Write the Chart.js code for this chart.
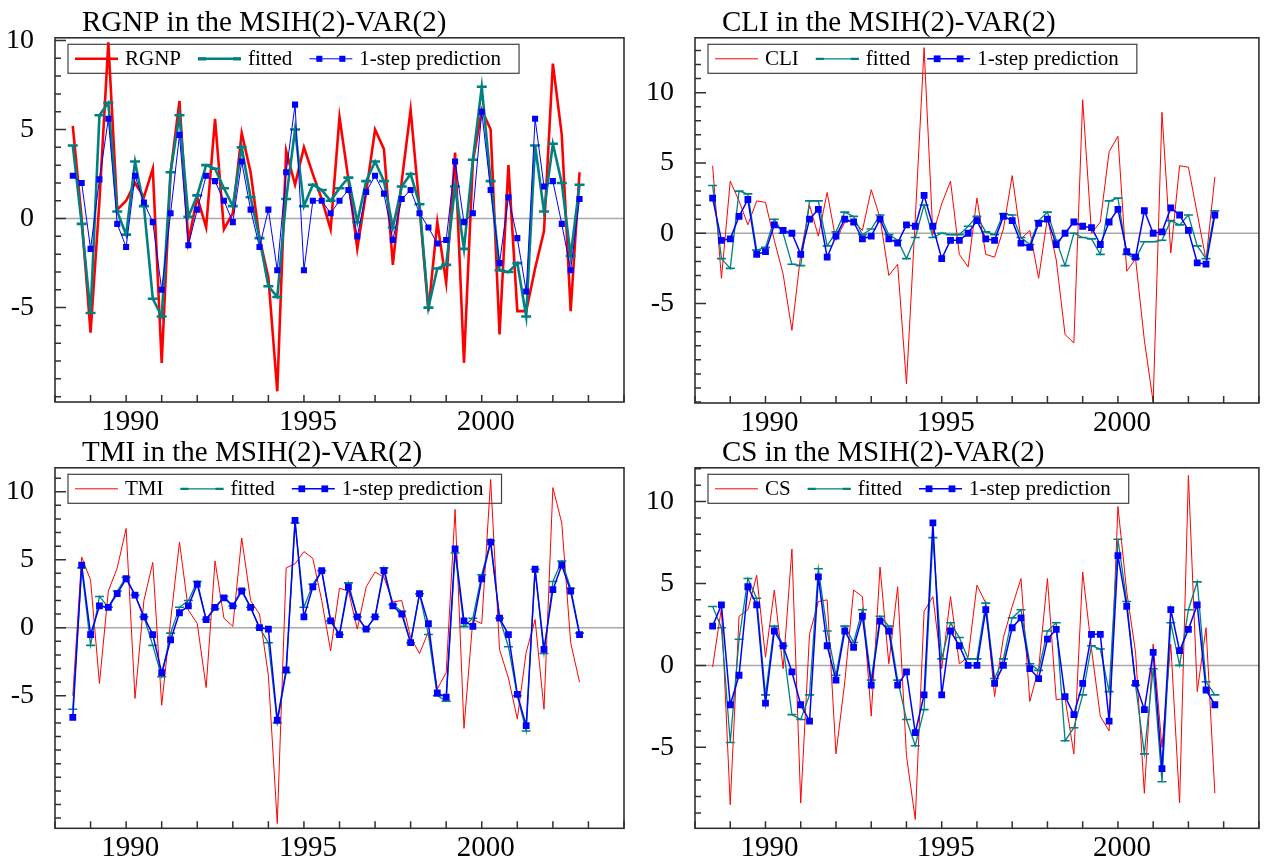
<!DOCTYPE html>
<html>
<head>
<meta charset="utf-8">
<script src="https://cdn.jsdelivr.net/npm/chart.js@4.4.0/dist/chart.umd.min.js"></script>
<style>
  body { margin: 0; background: #fff; width: 1265px; height: 867px; position: relative; overflow: hidden; }
  canvas { position: absolute; }
</style>
</head>
<body>
<canvas id="c1" width="632" height="445" style="left:0;top:0"></canvas>
<canvas id="c2" width="625" height="445" style="left:640px;top:0"></canvas>
<canvas id="c3" width="632" height="437" style="left:0;top:430px"></canvas>
<canvas id="c4" width="625" height="437" style="left:640px;top:430px"></canvas>
<script>
// quarterly sample 1988:3 - 2002:4
const firstQuarter = 1988.5;
const nObs = 58;
const xTickLabels = [1990, 1995, 2000];
const yTickLabels = [-5, 0, 5, 10];

const rgnpActual = [5.2, 0, -6.4, 1.0, 9.9, 0.5, 1.0, 2.0, 1.2, 2.8, -8.1, 2.6, 6.6, -1.3, 1.2, -0.5, 5.6, -0.6, 0.3, 4.8, 2.6, -1.1, -3.3, -9.7, 3.8, 1.9, 4.0, 2.5, 1.1, -0.6, 5.7, 2.2, -1.7, 1.5, 5.0, 3.9, -2.6, 2.1, 6.1, 0.6, -5.2, -0.2, -3.6, 3.7, -8.1, 3.2, 6.1, 5.0, -6.5, 3.0, -5.2, -5.2, -2.8, -0.7, 8.7, 4.7, -5.2, 2.6];
const rgnpFitted = [4.1, -0.3, -5.3, 5.8, 6.5, 0.4, -0.9, 3.2, 0.7, -4.5, -5.5, 2.6, 5.8, 0.1, 1.3, 3.0, 2.8, 1.7, 0.7, 4.0, 1.2, -1.1, -3.8, -4.4, 1.1, 5.0, 0.7, 1.9, 1.6, 1.0, 1.7, 2.3, -0.2, 2.1, 3.2, 2.1, -0.5, 1.8, 2.5, 0.8, -5.0, -2.8, -2.6, 1.8, -1.7, 3.3, 7.4, 2.1, -2.9, -3.0, -2.5, -5.5, 4.1, 0.4, 4.2, 2.0, -2.1, 1.9];
const rgnpPred = [2.4, 2.0, -1.7, 2.2, 5.6, -0.3, -1.6, 2.4, 0.9, -0.2, -4.0, 0.3, 4.7, -1.5, 0.5, 2.4, 2.1, 1.0, -0.2, 3.2, 0.5, -1.6, 0.5, -2.9, 2.6, 6.4, -2.9, 1.0, 1.0, 0.3, 1.0, 1.6, -1.0, 1.5, 2.4, 1.4, -1.2, 1.1, 1.6, 0.3, -0.5, -1.4, -1.2, 3.2, -0.2, 0.3, 6.0, 1.6, -2.5, 1.2, -1.1, -4.1, 5.6, 1.8, 2.1, -0.3, -2.9, 1.1];

const cliActual = [4.8, -3.2, 3.7, 2.3, 0.6, 2.3, 2.2, -0.5, -2.9, -6.9, -1.5, 2.0, -0.2, 2.9, -0.5, 0.8, 0.9, 0.2, 3.1, 1.1, -3.0, -2.2, -10.7, 1.0, 13.2, -0.1, 2.1, 3.7, -1.5, -2.4, 2.5, -1.5, -1.7, 0.3, 4.1, -0.4, 0.2, -3.2, 1.1, -1.9, -7.2, -7.8, 9.5, 0.0, 0.8, 5.8, 6.9, -2.7, -1.8, -7.6, -12.0, 8.6, -1.4, 4.8, 4.7, 1.4, -1.9, 4.0];
const cliFitted = [3.4, -1.8, -2.5, 3.0, 2.8, -1.2, -1.0, 1.0, 0.0, -2.2, -2.3, 2.3, 2.3, -0.9, 0.1, 1.5, 1.2, -0.1, 0.3, 1.3, -0.1, -0.5, -1.8, -0.3, 2.0, -0.3, 0.0, -0.1, -0.1, 0.5, 1.2, 0.1, -0.1, 1.4, 1.3, -0.3, -0.8, 0.9, 1.5, -0.5, -2.3, 0.0, -0.3, -0.4, -1.5, 2.3, 2.5, -1.5, -1.8, -0.6, -0.6, -0.5, 0.9, 0.6, 1.3, -0.9, -1.8, 1.6];
const cliPred = [2.5, -0.5, -0.4, 1.2, 2.4, -1.5, -1.3, 0.6, 0.2, 0.0, -1.5, 1.0, 1.7, -1.7, -0.2, 1.0, 0.8, -0.4, -0.2, 1.0, -0.4, -0.7, 0.6, 0.5, 2.7, 0.5, -1.8, -0.5, -0.5, 0.0, 0.9, -0.4, -0.5, 1.2, 0.9, -0.7, -1.0, 0.7, 1.0, -0.8, 0.0, 0.8, 0.5, 0.4, -0.8, 0.8, 1.7, -1.3, -1.7, 1.6, 0.0, 0.1, 1.8, 1.3, 0.2, -2.1, -2.2, 1.3];

const tmiActual = [-5.0, 5.2, 3.5, -4.1, 2.7, 4.4, 7.3, -5.2, 2.0, 4.8, -5.7, 0.5, 6.3, 1.3, 0.3, -4.4, 4.9, 0.7, 0.1, 6.6, 2.0, 1.0, -3.5, -14.4, 4.4, 4.7, 5.6, 5.1, 2.0, -1.7, 2.9, 2.7, -0.1, 3.0, 4.1, 3.7, 1.9, 2.0, -0.7, -1.9, -0.3, -4.5, -3.3, 8.7, -7.4, 0.6, 0.3, 10.9, -1.6, -3.7, -6.7, -1.8, 0.6, -6.0, 10.3, 7.7, -1.1, -4.0];
const tmiFitted = [-6.0, 4.4, -1.3, 2.3, 1.5, 2.7, 3.7, 2.4, 0.8, -1.3, -3.6, -0.4, 1.5, 2.0, 3.4, 0.6, 1.4, 2.3, 1.6, 2.8, 1.5, 0.0, -1.1, -7.0, -3.3, 7.7, 1.5, 3.2, 4.2, 0.5, -0.5, 3.3, 0.8, -0.1, 0.8, 4.4, 1.7, 1.2, -1.1, 2.5, -0.5, -5.0, -5.4, 5.5, 0.1, 0.7, 3.9, 6.4, 0.7, -1.4, -5.0, -7.6, 4.3, -1.9, 3.4, 4.9, 2.9, -0.4];
const tmiPred = [-6.6, 4.6, -0.5, 1.6, 1.5, 2.5, 3.6, 2.4, 0.8, -0.5, -3.3, -0.9, 1.1, 1.6, 3.2, 0.6, 1.5, 2.2, 1.6, 2.7, 1.5, 0.0, -0.1, -6.8, -3.1, 7.9, 0.8, 3.0, 4.2, 0.5, -0.5, 3.0, 0.8, -0.1, 0.8, 4.2, 1.6, 1.0, -1.1, 2.5, 0.3, -4.8, -5.1, 5.8, 0.5, 0.1, 3.6, 6.3, 0.7, -0.5, -4.9, -7.2, 4.3, -1.6, 2.8, 4.6, 2.7, -0.5];

const csActual = [-0.1, 3.5, -8.5, 3.0, 3.4, 5.5, 0.5, 4.6, -0.2, 7.1, -8.4, 1.9, 3.9, 4.0, -5.4, -1.0, 4.6, 4.2, -3.1, 6.0, 0.1, 4.8, -5.5, -9.4, 3.3, 4.2, -0.2, 4.2, 0.1, 0.5, 4.9, 3.8, -1.9, 1.7, 3.6, 5.3, -2.2, -0.2, 5.3, -2.1, -2.0, -5.4, 5.7, 1.0, -3.1, -4.0, 9.7, 4.5, 0.8, -7.8, 1.3, -5.0, 1.3, -8.4, 11.6, -1.6, 2.3, -7.8];
const csFitted = [3.6, 2.3, -4.7, 1.6, 5.3, 4.1, -1.8, 2.4, 1.2, -3.0, -3.3, -1.8, 5.9, 2.1, -0.6, 2.4, 1.4, 3.4, -0.9, 3.0, 2.4, -0.9, -3.3, -4.9, -2.7, 7.8, 0.4, 2.6, 1.7, 0.4, 0.4, 3.8, -0.8, 0.4, 2.9, 3.4, 0.1, -0.3, 2.1, 2.6, -4.6, -3.8, -1.8, 1.2, 1.0, -1.6, 7.7, 3.9, -1.2, -5.4, -0.2, -7.1, 2.6, 0.0, 3.4, 5.1, -1.0, -1.8];
const csPred = [2.4, 3.7, -2.4, -0.6, 4.8, 3.7, -2.3, 2.1, 1.2, -0.4, -2.4, -3.4, 5.4, 1.2, -0.9, 2.1, 1.1, 3.0, -1.2, 2.7, 2.1, -1.2, -0.4, -4.1, -1.8, 8.7, -1.8, 2.1, 1.2, 0.0, 0.0, 3.4, -1.1, 0.0, 2.3, 2.9, -0.2, -0.8, 1.6, 2.2, -1.9, -3.0, -1.1, 1.9, 1.9, -3.4, 6.7, 3.6, -1.1, -2.7, 0.8, -6.3, 3.4, 0.9, 2.2, 3.7, -1.5, -2.4];

const quarters = [];
for (let i = 0; i < nObs; i++) quarters.push(firstQuarter + i / 4);

const serif = "'Liberation Serif', 'DejaVu Serif', serif";
const RED = '#ff0000', TEAL = '#008080', BLUE = '#0000ff';

function pts(vals) {
  return vals.map((v, i) => ({ x: quarters[i], y: v }));
}

// one tick per whole unit, like the original axes
function unitTicks(s) {
  const t = [];
  for (let v = Math.ceil(s.min); v <= Math.floor(s.max); v++) t.push({ value: v });
  s.ticks = t;
}

// box, inward ticks, zero line, title and legend in the GiveWin look
const panelPlugin = {
  id: 'panel',
  beforeDatasetsDraw(chart) {
    const { ctx, chartArea: a, scales: { y } } = chart;
    const cfg = chart.options.plugins.panel;
    ctx.save();
    // zero line
    const y0 = y.getPixelForValue(0);
    ctx.strokeStyle = '#a8a8a8';
    ctx.lineWidth = 1.5;
    ctx.beginPath(); ctx.moveTo(a.left, y0); ctx.lineTo(a.right, y0); ctx.stroke();

    // title
    ctx.fillStyle = '#000';
    ctx.font = '29px ' + serif;
    ctx.textBaseline = 'alphabetic';
    ctx.textAlign = 'left';
    ctx.fillText(cfg.title, a.left + 27, a.top - 7);

    // legend
    ctx.font = '21px ' + serif;
    ctx.textBaseline = 'middle';
    const bx = a.left + 13, by = a.top + 6.5, bh = 29;
    const cy = by + bh / 2;
    let x = bx + 7;
    chart.data.datasets.forEach((ds, k) => {
      if (k > 0) x += 17;
      ctx.strokeStyle = ds.borderColor;
      ctx.lineWidth = ds.borderWidth;
      ctx.beginPath(); ctx.moveTo(x, cy); ctx.lineTo(x + 43, cy); ctx.stroke();
      if (ds.pointStyle === 'rect') {
        const s = ds.pointRadius * 1.41;
        ctx.fillStyle = ds.borderColor;
        ctx.fillRect(x + 10 - s / 2, cy - s / 2, s, s);
        ctx.fillRect(x + 33 - s / 2, cy - s / 2, s, s);
      } else if (ds.pointStyle === 'line') {
        ctx.lineWidth = ds.pointBorderWidth + 0.6;
        ctx.beginPath();
        ctx.moveTo(x, cy); ctx.lineTo(x + 8, cy);
        ctx.moveTo(x + 35, cy); ctx.lineTo(x + 43, cy);
        ctx.stroke();
      }
      x += 50;
      ctx.fillStyle = '#000';
      ctx.fillText(ds.label, x, cy + 1);
      x += ctx.measureText(ds.label).width;
    });
    const bw = x + 18 - bx;
    ctx.strokeStyle = '#404040';
    ctx.lineWidth = 1.2;
    ctx.strokeRect(bx, by, bw, bh);
    ctx.restore();
  },
  afterDatasetsDraw(chart) {
    const { ctx, chartArea: a, scales: { x, y } } = chart;
    ctx.save();
    ctx.strokeStyle = '#303030';
    ctx.lineWidth = 1.5;
    ctx.beginPath();
    y.ticks.forEach(t => {
      const py = y.getPixelForValue(t.value);
      const len = yTickLabels.includes(t.value) ? 11 : 6;
      ctx.moveTo(a.left, py); ctx.lineTo(a.left + len, py);
    });
    x.ticks.forEach(t => {
      const px = x.getPixelForValue(t.value);
      ctx.moveTo(px, a.bottom); ctx.lineTo(px, a.bottom - 7);
    });
    ctx.stroke();
    ctx.lineWidth = 1.6;
    ctx.strokeRect(a.left, a.top, a.right - a.left, a.bottom - a.top);
    ctx.restore();
  }
};

function makePanel(p) {
  const canvas = document.getElementById(p.id);
  const W = canvas.width, H = canvas.height;
  return new Chart(canvas, {
    type: 'line',
    data: {
      datasets: [
        {
          label: p.name, data: pts(p.actual), order: 3,
          borderColor: RED, borderWidth: p.thick ? 2.6 : 1,
          pointRadius: 0, tension: 0
        },
        {
          label: 'fitted', data: pts(p.fitted), order: 2,
          borderColor: TEAL, borderWidth: p.thick ? 2.6 : 1.3,
          pointStyle: 'line', pointRadius: p.thick ? 5 : 4.5,
          pointBorderColor: TEAL, pointBorderWidth: p.thick ? 2.6 : 1.6,
          tension: 0
        },
        {
          label: '1-step prediction', data: pts(p.pred), order: 1,
          borderColor: BLUE, borderWidth: p.thick ? 1 : 1.5,
          pointStyle: 'rect', pointRadius: p.thick ? 4.3 : 4.8,
          pointBackgroundColor: BLUE, pointBorderColor: BLUE, pointBorderWidth: 0,
          tension: 0
        }
      ]
    },
    options: {
      responsive: false,
      animation: false,
      devicePixelRatio: 1,
      layout: { padding: { top: p.plot.top, right: W - p.plot.right, left: 0, bottom: 0 } },
      plugins: {
        legend: { display: false },
        tooltip: { enabled: false },
        panel: { title: p.title }
      },
      scales: {
        x: {
          type: 'linear', min: 1988, max: 2004,
          grid: { display: false, drawTicks: false },
          border: { display: false },
          afterBuildTicks: unitTicks,
          ticks: {
            autoSkip: false, maxRotation: 0, padding: 3, labelOffset: 4,
            color: '#000', font: { family: serif, size: 29 },
            callback: v => xTickLabels.includes(v) ? String(v) : ''
          },
          afterFit: s => { s.height = H - p.plot.bottom; }
        },
        y: {
          min: p.yMin, max: p.yMax,
          grid: { display: false, drawTicks: false },
          border: { display: false },
          afterBuildTicks: unitTicks,
          ticks: {
            autoSkip: false, padding: 21,
            color: '#000', font: { family: serif, size: 28 },
            callback: v => yTickLabels.includes(v) ? String(v) : ''
          },
          afterFit: s => { s.width = p.plot.left; }
        }
      }
    },
    plugins: [panelPlugin]
  });
}

makePanel({ id: 'c1', name: 'RGNP', title: 'RGNP in the MSIH(2)-VAR(2)', actual: rgnpActual, fitted: rgnpFitted, pred: rgnpPred,
  yMin: -10.3, yMax: 10.15, thick: true, plot: { left: 55, top: 35, right: 624, bottom: 402 } });
makePanel({ id: 'c2', name: 'CLI', title: 'CLI in the MSIH(2)-VAR(2)', actual: cliActual, fitted: cliFitted, pred: cliPred,
  yMin: -12.07, yMax: 13.9, thick: false, plot: { left: 55, top: 35, right: 623, bottom: 403 } });
makePanel({ id: 'c3', name: 'TMI', title: 'TMI in the MSIH(2)-VAR(2)', actual: tmiActual, fitted: tmiFitted, pred: tmiPred,
  yMin: -14.75, yMax: 11.76, thick: false, plot: { left: 55, top: 31.7, right: 624, bottom: 398.3 } });
makePanel({ id: 'c4', name: 'CS', title: 'CS in the MSIH(2)-VAR(2)', actual: csActual, fitted: csFitted, pred: csPred,
  yMin: -9.94, yMax: 12.06, thick: false, plot: { left: 55, top: 31.7, right: 623, bottom: 398.3 } });
</script>
</body>
</html>
